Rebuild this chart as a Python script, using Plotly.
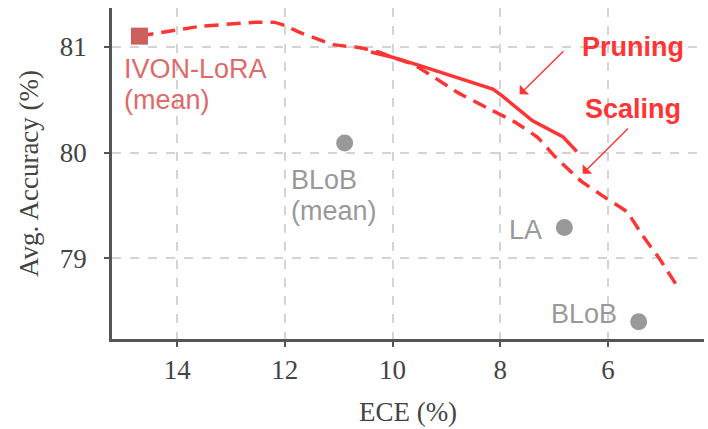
import plotly.graph_objects as go

# ---- data ----
scaling_ece = [14.7, 13.6, 12.6, 12.2, 12.0, 11.7, 11.1, 10.6, 10.2, 10.0, 9.6, 8.8, 8.2, 7.7, 7.3, 7.0, 6.65, 6.5, 6.1, 5.65, 5.35, 5.05, 4.72]
scaling_acc = [81.10, 81.19, 81.23, 81.23, 81.20, 81.13, 81.02, 80.99, 80.94, 80.90, 80.83, 80.57, 80.41, 80.28, 80.14, 79.97, 79.80, 79.73, 79.59, 79.44, 79.21, 79.00, 78.74]

pruning_ece = [10.4, 10.0, 9.55, 8.8, 8.14, 8.0, 7.4, 6.84, 6.58]
pruning_acc = [80.95, 80.90, 80.83, 80.71, 80.60, 80.55, 80.30, 80.15, 80.01]

ivon_ece = [14.7]
ivon_acc = [81.10]

base_names = ["BLoB (mean)", "LA", "BLoB"]
base_ece = [10.89, 6.81, 5.43]
base_acc = [80.09, 79.29, 78.40]

x_ticks = [14, 12, 10, 8, 6]
y_ticks = [79, 80, 81]

RED = "#ff3434"
SERIF = "Liberation Serif"
SANS = "Liberation Sans"

fig = go.Figure()
fig.add_trace(go.Scatter(x=scaling_ece, y=scaling_acc, mode="lines", name="Scaling",
                         line=dict(color=RED, width=3.5, dash="14px,8px", shape="spline", smoothing=0.3)))
fig.add_trace(go.Scatter(x=pruning_ece, y=pruning_acc, mode="lines", name="Pruning",
                         line=dict(color=RED, width=3.5)))
fig.add_trace(go.Scatter(x=base_ece, y=base_acc, mode="markers", name="Baselines",
                         marker=dict(color="#999999", size=17, symbol="circle")))
fig.add_trace(go.Scatter(x=ivon_ece, y=ivon_acc, mode="markers", name="IVON-LoRA (mean)",
                         marker=dict(color="#cd5f5f", size=17, symbol="square")))

lab_font = dict(family=SANS, size=27)
# IVON label
fig.add_annotation(x=ivon_ece[0], y=ivon_acc[0], text="IVON-LoRA", showarrow=False,
                   xanchor="left", yanchor="middle", xshift=-17, yshift=-33,
                   font=dict(lab_font, color="#e06a6a"))
fig.add_annotation(x=ivon_ece[0], y=ivon_acc[0], text="(mean)", showarrow=False,
                   xanchor="left", yanchor="middle", xshift=-17, yshift=-64,
                   font=dict(lab_font, color="#e06a6a"))
# baseline labels
fig.add_annotation(x=base_ece[0], y=base_acc[0], text="BLoB", showarrow=False,
                   xanchor="left", yanchor="middle", xshift=-56, yshift=-37,
                   font=dict(lab_font, color="#999999"))
fig.add_annotation(x=base_ece[0], y=base_acc[0], text="(mean)", showarrow=False,
                   xanchor="left", yanchor="middle", xshift=-56, yshift=-68,
                   font=dict(lab_font, color="#999999"))
fig.add_annotation(x=base_ece[1], y=base_acc[1], text="LA", showarrow=False,
                   xanchor="right", yanchor="middle", xshift=-20, yshift=-2,
                   font=dict(lab_font, color="#999999"))
fig.add_annotation(x=base_ece[2], y=base_acc[2], text="BLoB", showarrow=False,
                   xanchor="right", yanchor="middle", xshift=-20, yshift=8,
                   font=dict(lab_font, color="#999999"))

# Pruning / Scaling callouts
bold = dict(family=SANS, size=27, color=RED, weight="bold")
fig.add_annotation(x=5.54, y=81.0, text="<b>Pruning</b>", showarrow=False,
                   xanchor="center", yanchor="middle", font=bold)
fig.add_annotation(x=5.54, y=80.41, text="<b>Scaling</b>", showarrow=False,
                   xanchor="center", yanchor="middle", font=bold)
fig.add_annotation(x=7.64, y=80.55, ax=6.80, ay=80.97, axref="x", ayref="y", text="",
                   showarrow=True, arrowhead=1, arrowsize=1.6, arrowwidth=1.4, arrowcolor=RED)
fig.add_annotation(x=6.47, y=79.80, ax=5.60, ay=80.24, axref="x", ayref="y", text="",
                   showarrow=True, arrowhead=1, arrowsize=1.6, arrowwidth=1.4, arrowcolor=RED)

axis_common = dict(showgrid=True, gridcolor="#d4d4d4", griddash="dash", gridwidth=1.5,
                   showline=True, linecolor="#555555", linewidth=2.5, mirror=False,
                   ticks="outside", ticklen=5, tickwidth=2, tickcolor="#555555",
                   zeroline=False, tickfont=dict(family=SERIF, size=27, color="#444444"))

fig.update_xaxes(range=[15.21, 4.217], tickvals=x_ticks, ticktext=[str(v) for v in x_ticks],
                 title=dict(text="ECE (%)", font=dict(family=SERIF, size=27, color="#444444"), standoff=18),
                 **axis_common)
fig.update_yaxes(range=[78.237, 81.366], tickvals=y_ticks, ticktext=[str(v) for v in y_ticks],
                 ticklabelstandoff=12,
                 title=dict(text="Avg. Accuracy (%)", font=dict(family=SERIF, size=27, color="#444444"), standoff=14),
                 **axis_common)

fig.update_layout(width=708, height=429, margin=dict(l=112, r=4, t=8, b=90, autoexpand=False),
                  plot_bgcolor="white", paper_bgcolor="white", showlegend=False)

fig.write_html("out.html")
